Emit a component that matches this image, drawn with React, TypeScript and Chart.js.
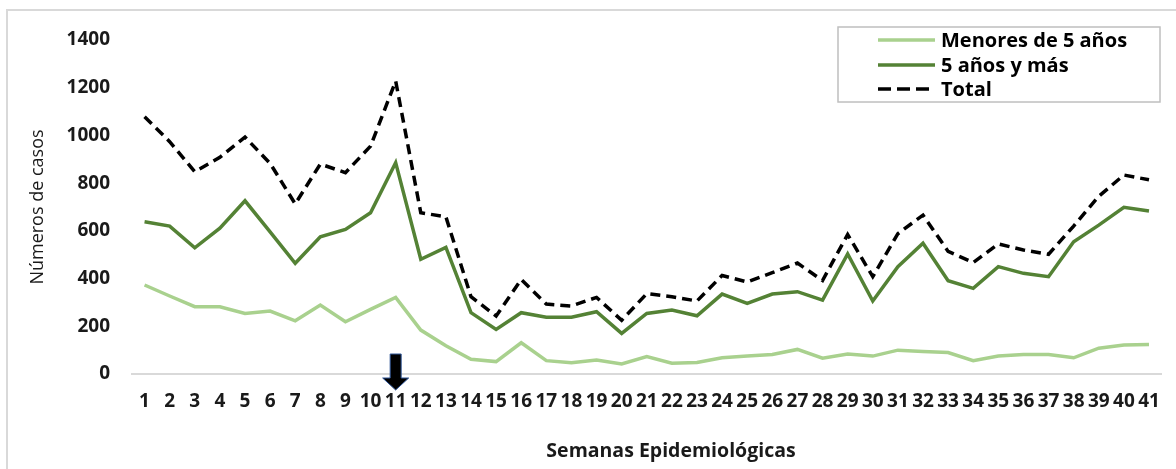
import React, { useEffect, useRef } from "react";
import { Chart, registerables } from "chart.js";

Chart.register(...registerables);

const weeks = [
  "1", "2", "3", "4", "5", "6", "7", "8", "9", "10",
  "11", "12", "13", "14", "15", "16", "17", "18", "19", "20",
  "21", "22", "23", "24", "25", "26", "27", "28", "29", "30",
  "31", "32", "33", "34", "35", "36", "37", "38", "39", "40", "41",
];

const menores5 = [
  373, 327, 282, 282, 254, 264, 223, 289, 219, 271,
  321, 184, 118, 62, 52, 131, 56, 47, 59, 42,
  73, 45, 48, 68, 75, 82, 103, 66, 84, 75,
  100, 94, 90, 56, 75, 82, 82, 68, 108, 122, 124,
];

const cincoYMas = [
  638, 620, 529, 611, 726, 596, 464, 575, 606, 676,
  886, 481, 531, 257, 187, 257, 238, 238, 261, 170,
  254, 268, 244, 335, 296, 335, 345, 310, 503, 306,
  450, 548, 391, 359, 450, 422, 408, 554, 624, 699, 683,
];

const total = [
  1078, 974, 848, 908, 993, 883, 713, 880, 844, 955,
  1228, 676, 659, 324, 243, 396, 293, 285, 321, 225,
  337, 324, 306, 413, 386, 425, 465, 392, 585, 408,
  588, 666, 514, 467, 545, 520, 502, 620, 745, 834, 814,
];

const seriesLabels = ["Menores de 5 años", "5 años y más", "Total"];
const xTitle = "Semanas Epidemiológicas";
const yTitle = "Números de casos";
const arrowWeek = "11";

const FONT = "'Open Sans', sans-serif";
const TEXT = "#1a1a1a";

const framePlugin = {
  id: "frame",
  beforeDraw(chart: any) {
    const { ctx, width, height } = chart;
    ctx.save();
    ctx.fillStyle = "#ffffff";
    ctx.fillRect(0, 0, width, height);
    ctx.strokeStyle = "#d9d9d9";
    ctx.lineWidth = 2;
    ctx.strokeRect(7, 10, width + 50, height + 50);
    ctx.restore();
  },
};

const xTitlePlugin = {
  id: "xTitle",
  afterDraw(chart: any) {
    const { ctx } = chart;
    ctx.save();
    ctx.fillStyle = TEXT;
    ctx.font = `bold 19.5px ${FONT}`;
    ctx.textAlign = "center";
    ctx.textBaseline = "middle";
    ctx.fillText(xTitle, 671, 451);
    ctx.restore();
  },
};

const arrowPlugin = {
  id: "arrow",
  afterDatasetsDraw(chart: any) {
    const { ctx } = chart;
    const xs = chart.scales.x;
    const ys = chart.scales.y;
    const cx = xs.getPixelForValue(weeks.indexOf(arrowWeek));
    const base = ys.getPixelForValue(0);
    const top = base - 20;
    const neck = base + 4;
    const tip = base + 16;
    ctx.save();
    ctx.beginPath();
    ctx.moveTo(cx - 5.5, top);
    ctx.lineTo(cx + 5.5, top);
    ctx.lineTo(cx + 5.5, neck);
    ctx.lineTo(cx + 13, neck);
    ctx.lineTo(cx, tip);
    ctx.lineTo(cx - 13, neck);
    ctx.lineTo(cx - 5.5, neck);
    ctx.closePath();
    ctx.fillStyle = "#000000";
    ctx.fill();
    ctx.strokeStyle = "#2f5597";
    ctx.lineWidth = 1;
    ctx.stroke();
    ctx.restore();
  },
};

const legendPlugin = {
  id: "boxLegend",
  afterDraw(chart: any) {
    const { ctx } = chart;
    const left = 838;
    const top = 27;
    const w = 322;
    const h = 75;
    ctx.save();
    ctx.fillStyle = "#ffffff";
    ctx.fillRect(left, top, w, h);
    ctx.strokeStyle = "#bfbfbf";
    ctx.lineWidth = 1.5;
    ctx.strokeRect(left, top, w, h);
    const rows = [40, 65, 89];
    chart.data.datasets.forEach((ds: any, i: number) => {
      const y = rows[i];
      ctx.beginPath();
      ctx.setLineDash(ds.borderDash ? [13, 6] : []);
      ctx.lineDashOffset = 0;
      ctx.strokeStyle = ds.borderColor;
      ctx.lineWidth = ds.borderWidth;
      ctx.lineCap = "butt";
      ctx.moveTo(878, y);
      ctx.lineTo(935, y);
      ctx.stroke();
      ctx.setLineDash([]);
      ctx.fillStyle = "#000000";
      ctx.font = `bold 20px ${FONT}`;
      ctx.textBaseline = "middle";
      ctx.textAlign = "left";
      ctx.fillText(ds.label, 941, y + 1);
    });
    ctx.restore();
  },
};

export default function App() {
  const ref = useRef<HTMLCanvasElement | null>(null);

  useEffect(() => {
    document.body.style.margin = "0";
    if (!ref.current) return;
    const chart = new Chart(ref.current, {
      type: "line",
      data: {
        labels: weeks,
        datasets: [
          {
            label: seriesLabels[0],
            data: menores5,
            borderColor: "#a9d18e",
            backgroundColor: "#a9d18e",
            borderWidth: 3.5,
            pointRadius: 0,
            tension: 0,
          },
          {
            label: seriesLabels[1],
            data: cincoYMas,
            borderColor: "#548235",
            backgroundColor: "#548235",
            borderWidth: 3.5,
            pointRadius: 0,
            tension: 0,
          },
          {
            label: seriesLabels[2],
            data: total,
            borderColor: "#000000",
            backgroundColor: "#000000",
            borderWidth: 3.5,
            borderDash: [10, 6],
            pointRadius: 0,
            tension: 0,
          },
        ],
      },
      options: {
        animation: false,
        responsive: true,
        maintainAspectRatio: false,
        layout: { padding: { left: 0, top: 40, right: 12, bottom: 0 } },
        plugins: {
          legend: { display: false },
          tooltip: { enabled: false },
          title: { display: false },
        },
        scales: {
          x: {
            type: "category",
            offset: true,
            grid: { display: false, drawTicks: false },
            border: { display: true, color: "#d9d9d9", width: 2 },
            ticks: {
              autoSkip: false,
              maxRotation: 0,
              minRotation: 0,
              padding: 16,
              color: TEXT,
              font: { family: FONT, size: 19, weight: "bold" },
            },
            title: { display: false },
            afterFit(scale: any) {
              scale.height = 95;
            },
          },
          y: {
            min: 0,
            max: 1400,
            grid: { display: false, drawTicks: false },
            border: { display: false },
            ticks: {
              stepSize: 200,
              padding: 22,
              color: TEXT,
              font: { family: FONT, size: 19, weight: "bold" },
              callback: (value: any) => String(value),
            },
            title: {
              display: true,
              text: yTitle,
              color: TEXT,
              font: { family: FONT, size: 18, weight: "normal" },
              padding: { top: 27, bottom: 0 },
            },
            afterFit(scale: any) {
              scale.width = 132;
            },
          },
        },
      },
      plugins: [framePlugin, arrowPlugin, legendPlugin, xTitlePlugin],
    });
    return () => chart.destroy();
  }, []);

  return (
    <div style={{ position: "absolute", left: 0, top: 0, width: 1176, height: 469 }}>
      <canvas ref={ref} />
    </div>
  );
}
